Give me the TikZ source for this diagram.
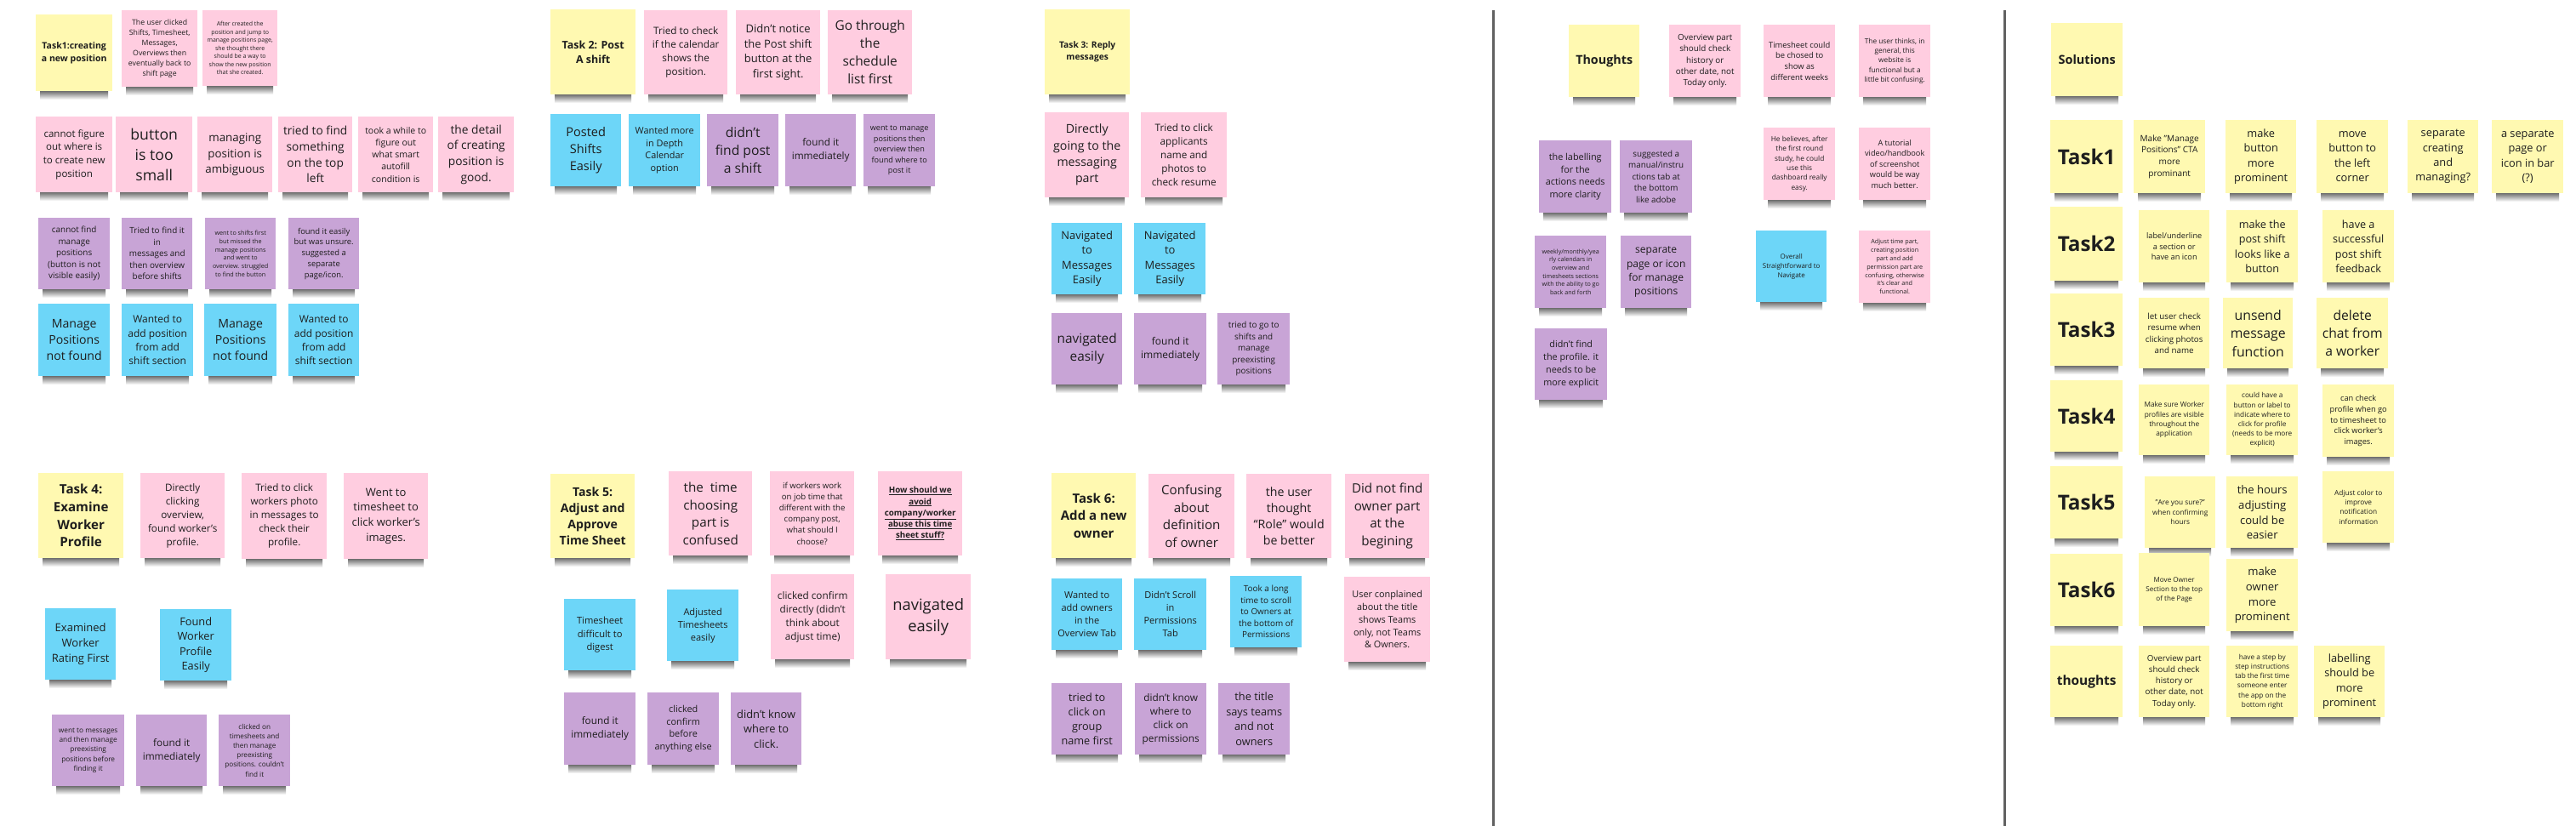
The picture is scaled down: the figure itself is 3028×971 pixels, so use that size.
\documentclass[tikz,border=0pt]{standalone}
\usepackage{fontspec}
\setmainfont{Open Sans}
\definecolor{ny}{HTML}{FFF9B1}
\definecolor{np}{HTML}{FFCDE0}
\definecolor{nv}{HTML}{C8A4D6}
\definecolor{nb}{HTML}{6DD6F8}
\definecolor{ink}{HTML}{1E1E1E}
\newcommand\fs[1]{\fontsize{\fpeval{#1*0.735}}{\fpeval{#1}}\selectfont}
\newcommand\sn[8]{%
  \shade[top color=black!68,bottom color=white] (#2+5,#5-2) rectangle (#4-5,#5+10);
  \node[sticky,fill=#6,anchor=north west,minimum width={(#4)-(#2)},minimum height={(#5)-(#3)},font=\fs{#7}] (#1) at (#2,#3) {#8};
}
\begin{document}
\begin{tikzpicture}[x=1pt,y=-1pt,
  sticky/.style={inner sep=1pt,align=center,text=ink},
  sepline/.style={draw=black!62,line width=3pt}]
\useasboundingbox[fill=white] (0,0) rectangle (3028,971);
% separators
\coordinate (s1a) at (1755,12); \coordinate (s1b) at (1755,971);
\coordinate (s2a) at (2356,12); \coordinate (s2b) at (2356,971);
\draw[sepline] (s1a) -- (s1b);
\draw[sepline] (s2a) -- (s2b);
% ---------- Task 1
\sn{a1}{42}{17}{132}{107}{ny}{14.3}{\bfseries Task1:creating\\\bfseries a new position}
\sn{a2}{143}{12}{232}{102}{np}{11.9}{The user clicked\\Shifts, Timesheet,\\Messages,\\Overviews then\\eventually back to\\shift page}
\sn{a3}{238}{12}{326}{101}{np}{9.5}{After created the\\position and jump to\\manage positions page,\\she thought there\\should be a way to\\show the new position\\that she created.}
\sn{a4}{42}{137}{132}{226}{np}{15.7}{cannot figure\\out where is\\to create new\\position}
\sn{a5}{136}{137}{226}{226}{np}{24}{button\\is too\\small}
\sn{a6}{232}{137}{320}{226}{np}{18.2}{managing\\position is\\ambiguous}
\sn{a7}{327}{137}{414}{226}{np}{18.7}{tried to find\\something\\on the top\\left}
\sn{a8}{421}{137}{509}{226}{np}{14.3}{took a while to\\figure out\\what smart\\autofill\\condition is}
\sn{a9}{515}{137}{604}{226}{np}{18.7}{the detail\\of creating\\position is\\good.}
\sn{a10}{45}{256}{129}{340}{nv}{13.5}{cannot find\\manage\\positions\\(button is not\\visible easily)}
\sn{a11}{143}{256}{226}{340}{nv}{13.5}{Tried to find it\\in\\messages and\\then overview\\before shifts}
\sn{a12}{241}{256}{324}{340}{nv}{9.8}{went to shifts first\\but missed the\\manage positions\\and went to\\overview. struggled\\to find the button}
\sn{a13}{339}{256}{422}{340}{nv}{12.8}{found it easily\\but was unsure.\\suggested a\\separate\\page/icon.}
\sn{a14}{45}{357}{129}{442}{nb}{19.2}{Manage\\Positions\\not found}
\sn{a15}{143}{357}{227}{442}{nb}{16.3}{Wanted to\\add position\\from add\\shift section}
\sn{a16}{240}{357}{325}{442}{nb}{19.2}{Manage\\Positions\\not found}
\sn{a17}{339}{357}{422}{442}{nb}{16.3}{Wanted to\\add position\\from add\\shift section}
% ---------- Task 2
\sn{b1}{647}{11}{747}{111}{ny}{17}{\bfseries Task 2: Post\\\bfseries A shift}
\sn{b2}{757}{12}{855}{111}{np}{16}{Tried to check\\if the calendar\\shows the\\position.}
\sn{b3}{865}{12}{964}{111}{np}{17.7}{Didn’t notice\\the Post shift\\button at the\\first sight.}
\sn{b4}{973}{12}{1072}{111}{np}{21}{Go through\\the\\schedule\\list first}
\sn{b5}{647}{134}{730}{219}{nb}{19.8}{Posted\\Shifts\\Easily}
\sn{b6}{739}{134}{823}{219}{nb}{14.8}{Wanted more\\in Depth\\Calendar\\option}
\sn{b7}{831}{134}{915}{219}{nv}{21.3}{didn't\\find post\\a shift}
\sn{b8}{923}{134}{1006}{219}{nv}{16}{found it\\immediately}
\sn{b9}{1015}{134}{1099}{219}{nv}{12.4}{went to manage\\positions then\\overview then\\found where to\\post it}
% ---------- Task 3
\sn{c1}{1228}{11}{1328}{111}{ny}{14}{\bfseries Task 3: Reply\\\bfseries messages}
\sn{c2}{1228}{132}{1327}{232}{np}{19.3}{Directly\\going to the\\messaging\\part}
\sn{c3}{1341}{132}{1442}{232}{np}{16}{Tried to click\\applicants\\name and\\photos to\\check resume}
\sn{c4}{1236}{262}{1319}{346}{nb}{17.6}{Navigated\\to\\Messages\\Easily}
\sn{c5}{1333}{262}{1417}{346}{nb}{17.6}{Navigated\\to\\Messages\\Easily}
\sn{c6}{1236}{368}{1319}{452}{nv}{21}{navigated\\easily}
\sn{c7}{1333}{368}{1418}{452}{nv}{16.3}{found it\\immediately}
\sn{c8}{1431}{368}{1516}{452}{nv}{13.5}{tried to go to\\shifts and\\manage\\preexisting\\positions}
% ---------- Task 4
\sn{d1}{45}{556}{145}{656}{ny}{20.6}{\bfseries Task 4:\\\bfseries Examine\\\bfseries Worker\\\bfseries Profile}
\sn{d2}{165}{556}{264}{656}{np}{15.9}{Directly\\clicking\\overview,\\found worker’s\\profile.}
\sn{d3}{284}{556}{384}{657}{np}{15.9}{Tried to click\\workers photo\\in messages to\\check their\\profile.}
\sn{d4}{404}{556}{503}{657}{np}{17.7}{Went to\\timesheet to\\click worker’s\\images.}
\sn{d5}{53}{715}{136}{799}{nb}{17.7}{Examined\\Worker\\Rating First}
\sn{d6}{188}{716}{272}{800}{nb}{17.4}{Found\\Worker\\Profile\\Easily}
\sn{d7}{61}{840}{146}{924}{nv}{11.3}{went to messages\\and then manage\\preexisting\\positions before\\finding it}
\sn{d8}{160}{840}{243}{924}{nv}{16}{found it\\immediately}
\sn{d9}{257}{840}{341}{924}{nv}{11.1}{clicked on\\timesheets and\\then manage\\preexisting\\positions. couldn't\\find it}
% ---------- Task 5
\sn{e1}{647}{557}{746}{656}{ny}{19.2}{\bfseries Task 5:\\\bfseries Adjust and\\\bfseries Approve\\\bfseries Time Sheet}
\sn{e2}{786}{554}{884}{653}{np}{20.7}{the\ \ time\\choosing\\part is\\confused}
\sn{e3}{905}{554}{1004}{653}{np}{13.1}{if workers work\\on job time that\\different with the\\company post,\\what should I\\choose?}
\sn{e4}{1032}{554}{1131}{653}{np}{13.3}{\bfseries\underline{How should we}\\\bfseries\underline{avoid}\\\bfseries\underline{company/worker}\\\bfseries\underline{abuse this time}\\\bfseries\underline{sheet stuff?}}
\sn{e5}{663}{704}{747}{788}{nb}{15.2}{Timesheet\\difficult to\\digest}
\sn{e6}{784}{693}{868}{777}{nb}{15}{Adjusted\\Timesheets\\easily}
\sn{e7}{906}{675}{1004}{775}{np}{16}{clicked confirm\\directly (didn't\\think about\\adjust time)}
\sn{e8}{1041}{675}{1141}{775}{np}{25}{navigated\\easily}
\sn{e9}{663}{814}{747}{899}{nv}{16}{found it\\immediately}
\sn{e10}{761}{814}{845}{899}{nv}{14.8}{clicked\\confirm\\before\\anything else}
\sn{e11}{859}{814}{942}{899}{nv}{17.5}{didn't know\\where to\\click.}
% ---------- Task 6
\sn{f1}{1236}{556}{1335}{656}{ny}{20.5}{\bfseries Task 6:\\\bfseries Add a new\\\bfseries owner}
\sn{f2}{1350}{557}{1451}{656}{np}{20.6}{Confusing\\about\\definition\\of owner}
\sn{f3}{1465}{557}{1565}{656}{np}{19.3}{the user\\thought\\“Role” would\\be better}
\sn{f4}{1581}{557}{1680}{656}{np}{20.6}{Did not find\\owner part\\at the\\begining}
\sn{f5}{1236}{680}{1319}{764}{nb}{15}{Wanted to\\add owners\\in the\\Overview Tab}
\sn{f6}{1333}{680}{1418}{764}{nb}{15}{Didn't Scroll\\in\\Permissions\\Tab}
\sn{f7}{1446}{677}{1530}{761}{nb}{13.5}{Took a long\\time to scroll\\to Owners at\\the bottom of\\Permissions}
\sn{f8}{1580}{678}{1681}{778}{np}{14.8}{User conplained\\about the title\\shows Teams\\only, not Teams\\\& Owners.}
\sn{f9}{1236}{803}{1319}{887}{nv}{17.3}{tried to\\click on\\group\\name first}
\sn{f10}{1334}{803}{1418}{887}{nv}{16.1}{didn't know\\where to\\click on\\permissions}
\sn{f11}{1432}{803}{1516}{887}{nv}{17.4}{the title\\says teams\\and not\\owners}
% ---------- Thoughts
\sn{g1}{1844}{29}{1927}{114}{ny}{19.5}{\bfseries Thoughts}
\sn{g2}{1962}{29}{2046}{114}{np}{13.4}{Overview part\\should check\\history or\\other date, not\\Today only.}
\sn{g3}{2073}{29}{2157}{114}{np}{12.8}{Timesheet could\\be chosed to\\show as\\different weeks}
\sn{g4}{2185}{29}{2269}{114}{np}{11.3}{The user thinks, in\\general, this\\website is\\functional but a\\little bit confusing.}
\sn{g5}{1809}{165}{1894}{250}{nv}{14.8}{the labelling\\for the\\actions needs\\more clarity}
\sn{g6}{1904}{165}{1989}{250}{nv}{13.4}{suggested a\\manual/instru\\ctions tab at\\the bottom\\like adobe}
\sn{g7}{2073}{150}{2157}{235}{np}{11.3}{He believes, after\\the first round\\study, he could\\use this\\dashboard really\\easy.}
\sn{g8}{2185}{150}{2269}{235}{np}{12.5}{A tutorial\\video/handbook\\of screenshot\\would be way\\much better.}
\sn{g9}{1804}{277}{1888}{362}{nv}{9.7}{weekly/monthly/yea\\rly calendars in\\overview and\\timesheets sections\\with the ability to go\\back and forth}
\sn{g10}{1905}{277}{1988}{362}{nv}{16.4}{separate\\page or icon\\for manage\\positions}
\sn{g11}{2064}{271}{2147}{355}{nb}{10.8}{Overall\\Straightforward to\\Navigate}
\sn{g12}{2185}{271}{2269}{356}{np}{9.8}{Adjust time part,\\creating position\\part and add\\permission part are\\confusing, otherwise\\it's clear and\\functional.}
\sn{g13}{1804}{386}{1889}{470}{nv}{14.7}{didn't find\\the profile. it\\needs to be\\more explicit}
% ---------- Solutions
\sn{h0}{2411}{27}{2495}{113}{ny}{19.7}{\bfseries Solutions}
\sn{h1}{2410}{141}{2495}{227}{ny}{33}{\bfseries Task1}
\sn{h2}{2508}{141}{2592}{227}{ny}{13.7}{Make "Manage\\Positions" CTA\\more\\prominant}
\sn{h3}{2616}{141}{2699}{227}{ny}{17.4}{make\\button\\more\\prominent}
\sn{h4}{2723}{141}{2807}{227}{ny}{17.4}{move\\button to\\the left\\corner}
\sn{h5}{2830}{141}{2913}{227}{ny}{17.4}{separate\\creating\\and\\managing?}
\sn{h6}{2929}{141}{3013}{227}{ny}{17.4}{a separate\\page or\\icon in bar\\(?)}
\sn{i1}{2410}{243}{2495}{330}{ny}{33}{\bfseries Task2}
\sn{i2}{2514}{247}{2597}{332}{ny}{12.5}{label/underline\\a section or\\have an icon}
\sn{i3}{2617}{247}{2701}{332}{ny}{17.2}{make the\\post shift\\looks like a\\button}
\sn{i4}{2730}{247}{2814}{332}{ny}{17.2}{have a\\successful\\post shift\\feedback}
\sn{j1}{2410}{345}{2495}{430}{ny}{33}{\bfseries Task3}
\sn{j2}{2514}{350}{2597}{433}{ny}{13.3}{let user check\\resume when\\clicking photos\\and name}
\sn{j3}{2613}{350}{2695}{433}{ny}{21.5}{unsend\\message\\function}
\sn{j4}{2723}{350}{2807}{433}{ny}{21.3}{delete\\chat from\\a worker}
\sn{k1}{2410}{447}{2495}{531}{ny}{33}{\bfseries Task4}
\sn{k2}{2514}{452}{2597}{535}{ny}{11.3}{Make sure Worker\\profiles are visible\\throughout the\\application}
\sn{k3}{2617}{452}{2701}{535}{ny}{11.2}{could have a\\button or label to\\indicate where to\\click for profile\\(needs to be more\\explicit)}
\sn{k4}{2730}{452}{2814}{537}{ny}{12.6}{can check\\profile when go\\to timesheet to\\click worker's\\images.}
\sn{l1}{2410}{548}{2495}{633}{ny}{33}{\bfseries Task5}
\sn{l2}{2521}{560}{2604}{644}{ny}{11.3}{"Are you sure?"\\when confirming\\hours}
\sn{l3}{2617}{560}{2701}{644}{ny}{17.8}{the hours\\adjusting\\could be\\easier}
\sn{l4}{2730}{554}{2814}{638}{ny}{11.3}{Adjust color to\\improve\\notification\\information}
\sn{m1}{2410}{651}{2495}{736}{ny}{33}{\bfseries Task6}
\sn{m2}{2514}{650}{2597}{736}{ny}{11}{Move Owner\\Section to the top\\of the Page}
\sn{m3}{2617}{657}{2701}{742}{ny}{17.9}{make\\owner\\more\\prominent}
\sn{o1}{2410}{759}{2495}{843}{ny}{21}{\bfseries thoughts}
\sn{o2}{2514}{759}{2597}{843}{ny}{13.3}{Overview part\\should check\\history or\\other date, not\\Today only.}
\sn{o3}{2617}{759}{2701}{843}{ny}{11.2}{have a step by\\step instructions\\tab the first time\\someone enter\\the app on the\\bottom right}
\sn{o4}{2720}{759}{2803}{843}{ny}{17.4}{labelling\\should be\\more\\prominent}
\end{tikzpicture}
\end{document}
